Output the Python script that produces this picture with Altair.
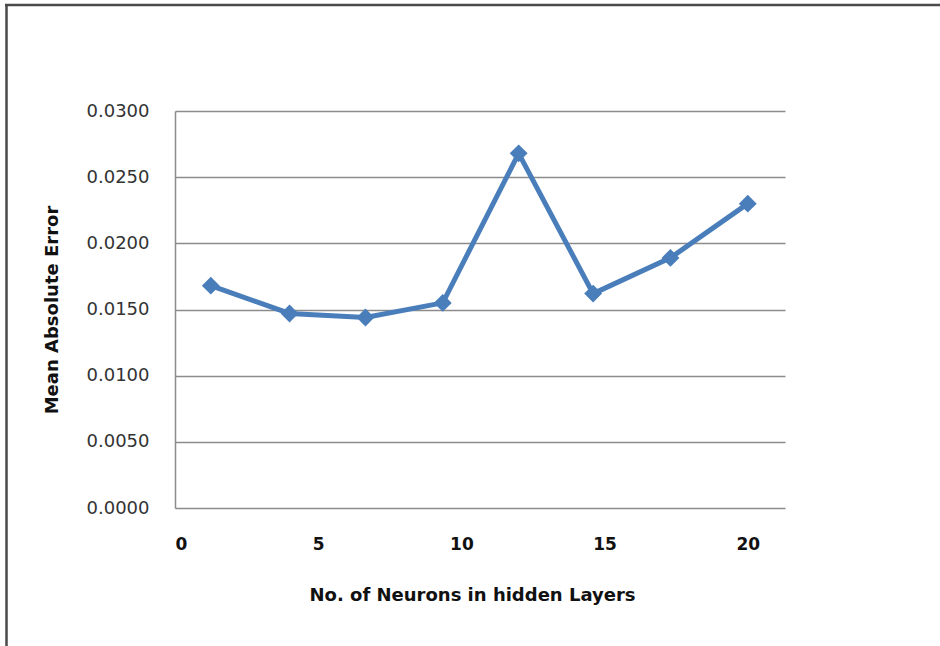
import altair as alt
import pandas as pd

# Values
neurons = [1.25, 4.0, 6.65, 9.35, 12.0, 14.6, 17.3, 20.0]
mae = [0.0168, 0.0147, 0.0144, 0.0155, 0.0268, 0.0162, 0.0189, 0.0230]
x_ticks = [0, 5, 10, 15, 20]
y_ticks = [0.0, 0.005, 0.010, 0.015, 0.020, 0.025, 0.030]

df = pd.DataFrame({"n": neurons, "mae": mae})

BLUE = "#4A7EBB"
FONT = "DejaVu Sans"

x_enc = alt.X(
    "n:Q",
    scale=alt.Scale(domain=[0, 21.3], nice=False, zero=False),
    axis=alt.Axis(
        values=x_ticks, grid=False, domain=False, ticks=False,
        labelPadding=28, labelFontSize=17, labelFontWeight="bold",
        labelColor="#111111", labelFont=FONT,
        title="No. of Neurons in hidden Layers",
        titleFont=FONT, titleFontSize=18, titleFontWeight="bold",
        titleColor="#111111", titleX=297, titleY=87, titleBaseline="middle",
    ),
)
y_enc = alt.Y(
    "mae:Q",
    scale=alt.Scale(domain=[0, 0.03], nice=False),
    axis=alt.Axis(
        values=y_ticks, format=".4f", grid=True, gridColor="#8c8c8c",
        gridWidth=1.5, domain=True, domainColor="#8c8c8c", domainWidth=1.5,
        ticks=False, labelPadding=26, labelFontSize=18, labelColor="#333333",
        labelFont=FONT,
        title="Mean Absolute Error", titleFont=FONT, titleFontSize=18,
        titleFontWeight="bold", titleColor="#111111",
        titleX=-123, titleBaseline="middle",
    ),
)

line = alt.Chart(df).mark_line(color=BLUE, strokeWidth=5).encode(x=x_enc, y=y_enc)
pts = alt.Chart(df).mark_point(
    shape="diamond", filled=True, color=BLUE, size=320, opacity=1
).encode(x="n:Q", y="mae:Q")

frame = pd.DataFrame({"k": [0]})
left_edge = alt.Chart(frame).mark_rule(color="#4a4a4a", strokeWidth=2.5).encode(
    x=alt.value(-168.5), y=alt.value(-106), y2=alt.value(560)
)
top_edge = alt.Chart(frame).mark_rule(color="#4a4a4a", strokeWidth=2.5).encode(
    x=alt.value(-170), x2=alt.value(790), y=alt.value(-106)
)

chart = alt.layer(line, pts, left_edge, top_edge).properties(
    width=610, height=397,
    autosize=alt.AutoSizeParams(type="none"),
    padding={"left": 175, "top": 111, "right": 155, "bottom": 138},
    background="white",
).configure_view(stroke=None)

chart.save("out.html", embed_options={"renderer": "svg", "actions": False})
